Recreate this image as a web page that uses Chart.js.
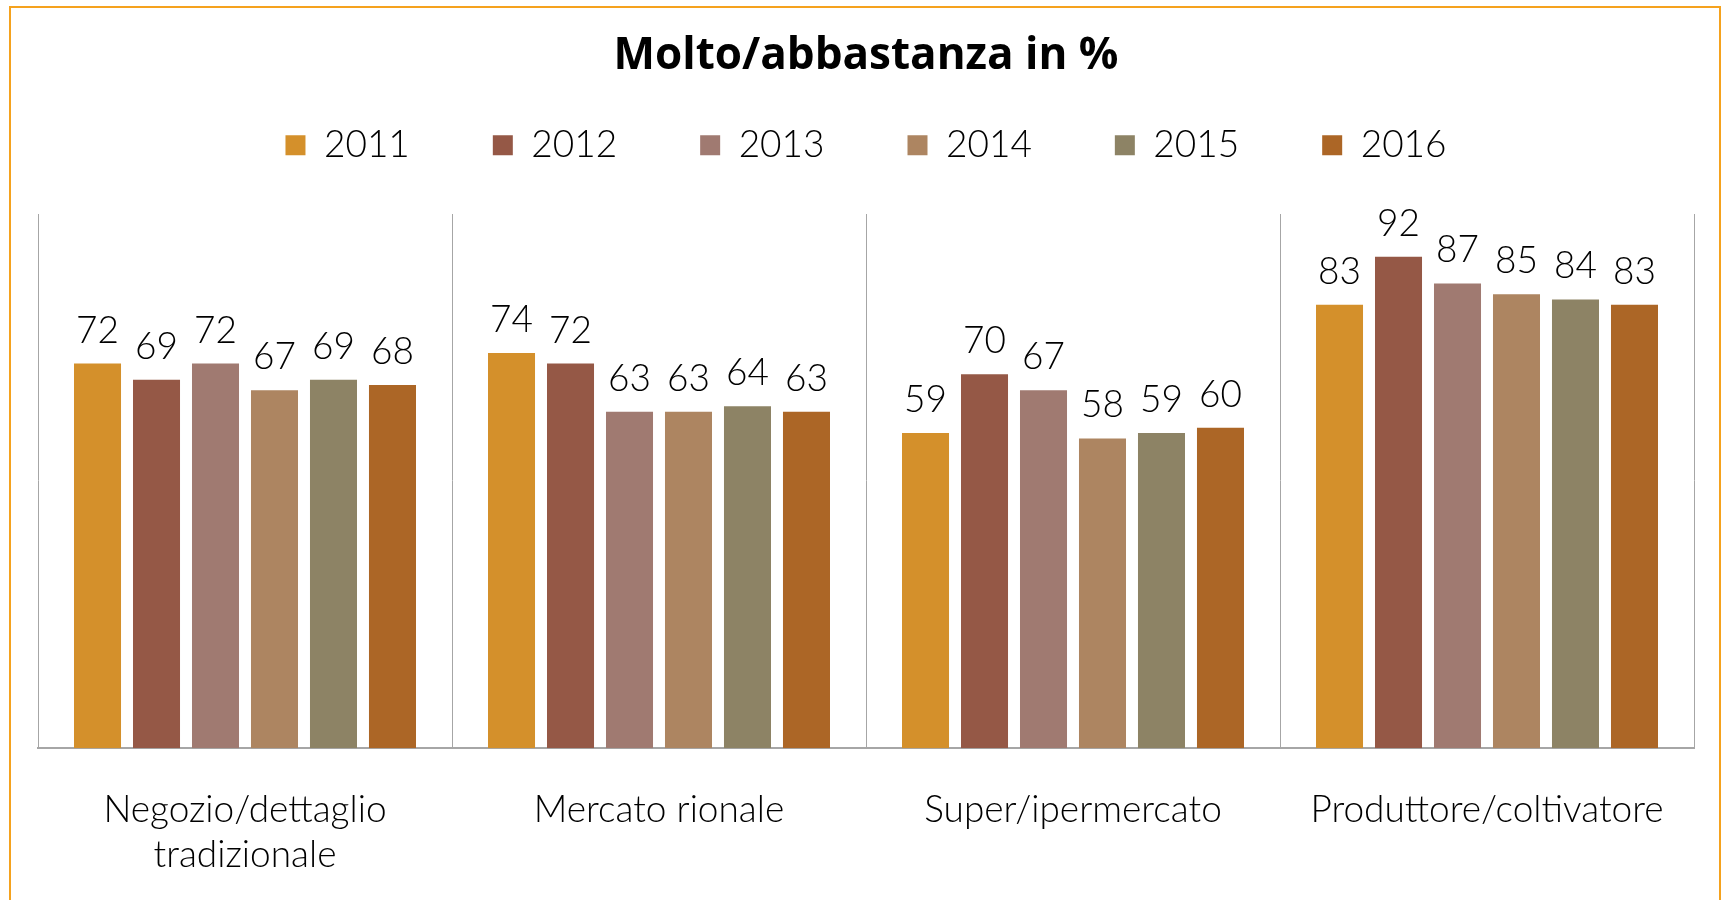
<!DOCTYPE html>
<html><head><meta charset="utf-8">
<script src="https://cdn.jsdelivr.net/npm/chart.js@4.4.1/dist/chart.umd.min.js"></script>
<style>
html,body{margin:0;padding:0;background:#fff;}
#wrap{position:relative;width:1725px;height:900px;overflow:hidden;}
#frame{position:absolute;left:9px;top:6px;width:1712px;height:1000px;border:2px solid #F5A21E;box-sizing:border-box;}
canvas{position:absolute;left:0;top:0;}
</style></head><body>
<div id="wrap"><div id="frame"></div><canvas id="c" width="1725" height="900"></canvas></div>
<script>
const titleText = 'Molto/abbastanza in %';
const categories = [['Negozio/dettaglio', 'tradizionale'], 'Mercato rionale', 'Super/ipermercato', 'Produttore/coltivatore'];
const years = ['2011', '2012', '2013', '2014', '2015', '2016'];
const v2011 = [72, 74, 59, 83];
const v2012 = [69, 72, 70, 92];
const v2013 = [72, 63, 67, 87];
const v2014 = [67, 63, 58, 85];
const v2015 = [69, 64, 59, 84];
const v2016 = [68, 63, 60, 83];
const seriesValues = [v2011, v2012, v2013, v2014, v2015, v2016];
const colors = ['#D4902B', '#955846', '#A07A71', '#AD8561', '#8D8365', '#AC6626'];

const FONT = 'Lato';
const TEXT_WEIGHT = 300;

const valueLabels = {
  id: 'valueLabels',
  afterDatasetsDraw(chart) {
    const ctx = chart.ctx;
    ctx.save();
    ctx.font = TEXT_WEIGHT + ' 37px ' + FONT;
    ctx.fillStyle = '#000';
    ctx.textAlign = 'center';
    ctx.textBaseline = 'alphabetic';
    chart.data.datasets.forEach((ds, i) => {
      const meta = chart.getDatasetMeta(i);
      meta.data.forEach((bar, j) => {
        ctx.fillText(String(ds.data[j]), bar.x, bar.y - 21);
      });
    });
    ctx.restore();
  }
};

const legendGap = {
  id: 'legendGap',
  beforeLayout(chart) {
    const lg = chart.legend;
    if (lg && !lg._gapPatched) {
      const fit = lg.fit;
      lg.fit = function () { fit.call(this); this.height += 40.3; };
      lg._gapPatched = true;
    }
  }
};

new Chart(document.getElementById('c'), {
  type: 'bar',
  data: {
    labels: categories,
    datasets: years.map((y, i) => ({
      label: y,
      data: seriesValues[i],
      backgroundColor: colors[i],
      borderWidth: 0,
      categoryPercentage: 0.855,
      barPercentage: 0.797
    }))
  },
  options: {
    responsive: false,
    animation: false,
    events: [],
    layout: { padding: { left: 38, right: 31, top: 0, bottom: -16.2 } },
    plugins: {
      title: {
        display: true,
        text: titleText,
        color: '#000',
        font: { family: 'Open Sans', size: 44, weight: 'bold', lineHeight: 1.2 },
        padding: { top: 30.4, bottom: -39.5 }
      },
      legend: {
        display: true,
        position: 'top',
        labels: {
          color: '#000',
          font: { family: FONT, size: 37, weight: TEXT_WEIGHT },
          boxWidth: 20,
          boxHeight: 20,
          padding: 83
        }
      },
      tooltip: { enabled: false }
    },
    scales: {
      x: {
        grid: { display: true, color: '#A6A6A6', lineWidth: 1, drawTicks: false, offset: true },
        border: { display: true, color: '#A6A6A6', width: 2 },
        ticks: { color: '#000', font: { family: FONT, size: 37, weight: TEXT_WEIGHT, lineHeight: 1.22 }, padding: 38.8, maxRotation: 0, autoSkip: false }
      },
      y: { display: false, min: 0, max: 100 }
    }
  },
  plugins: [valueLabels, legendGap]
});
</script>
</body></html>
